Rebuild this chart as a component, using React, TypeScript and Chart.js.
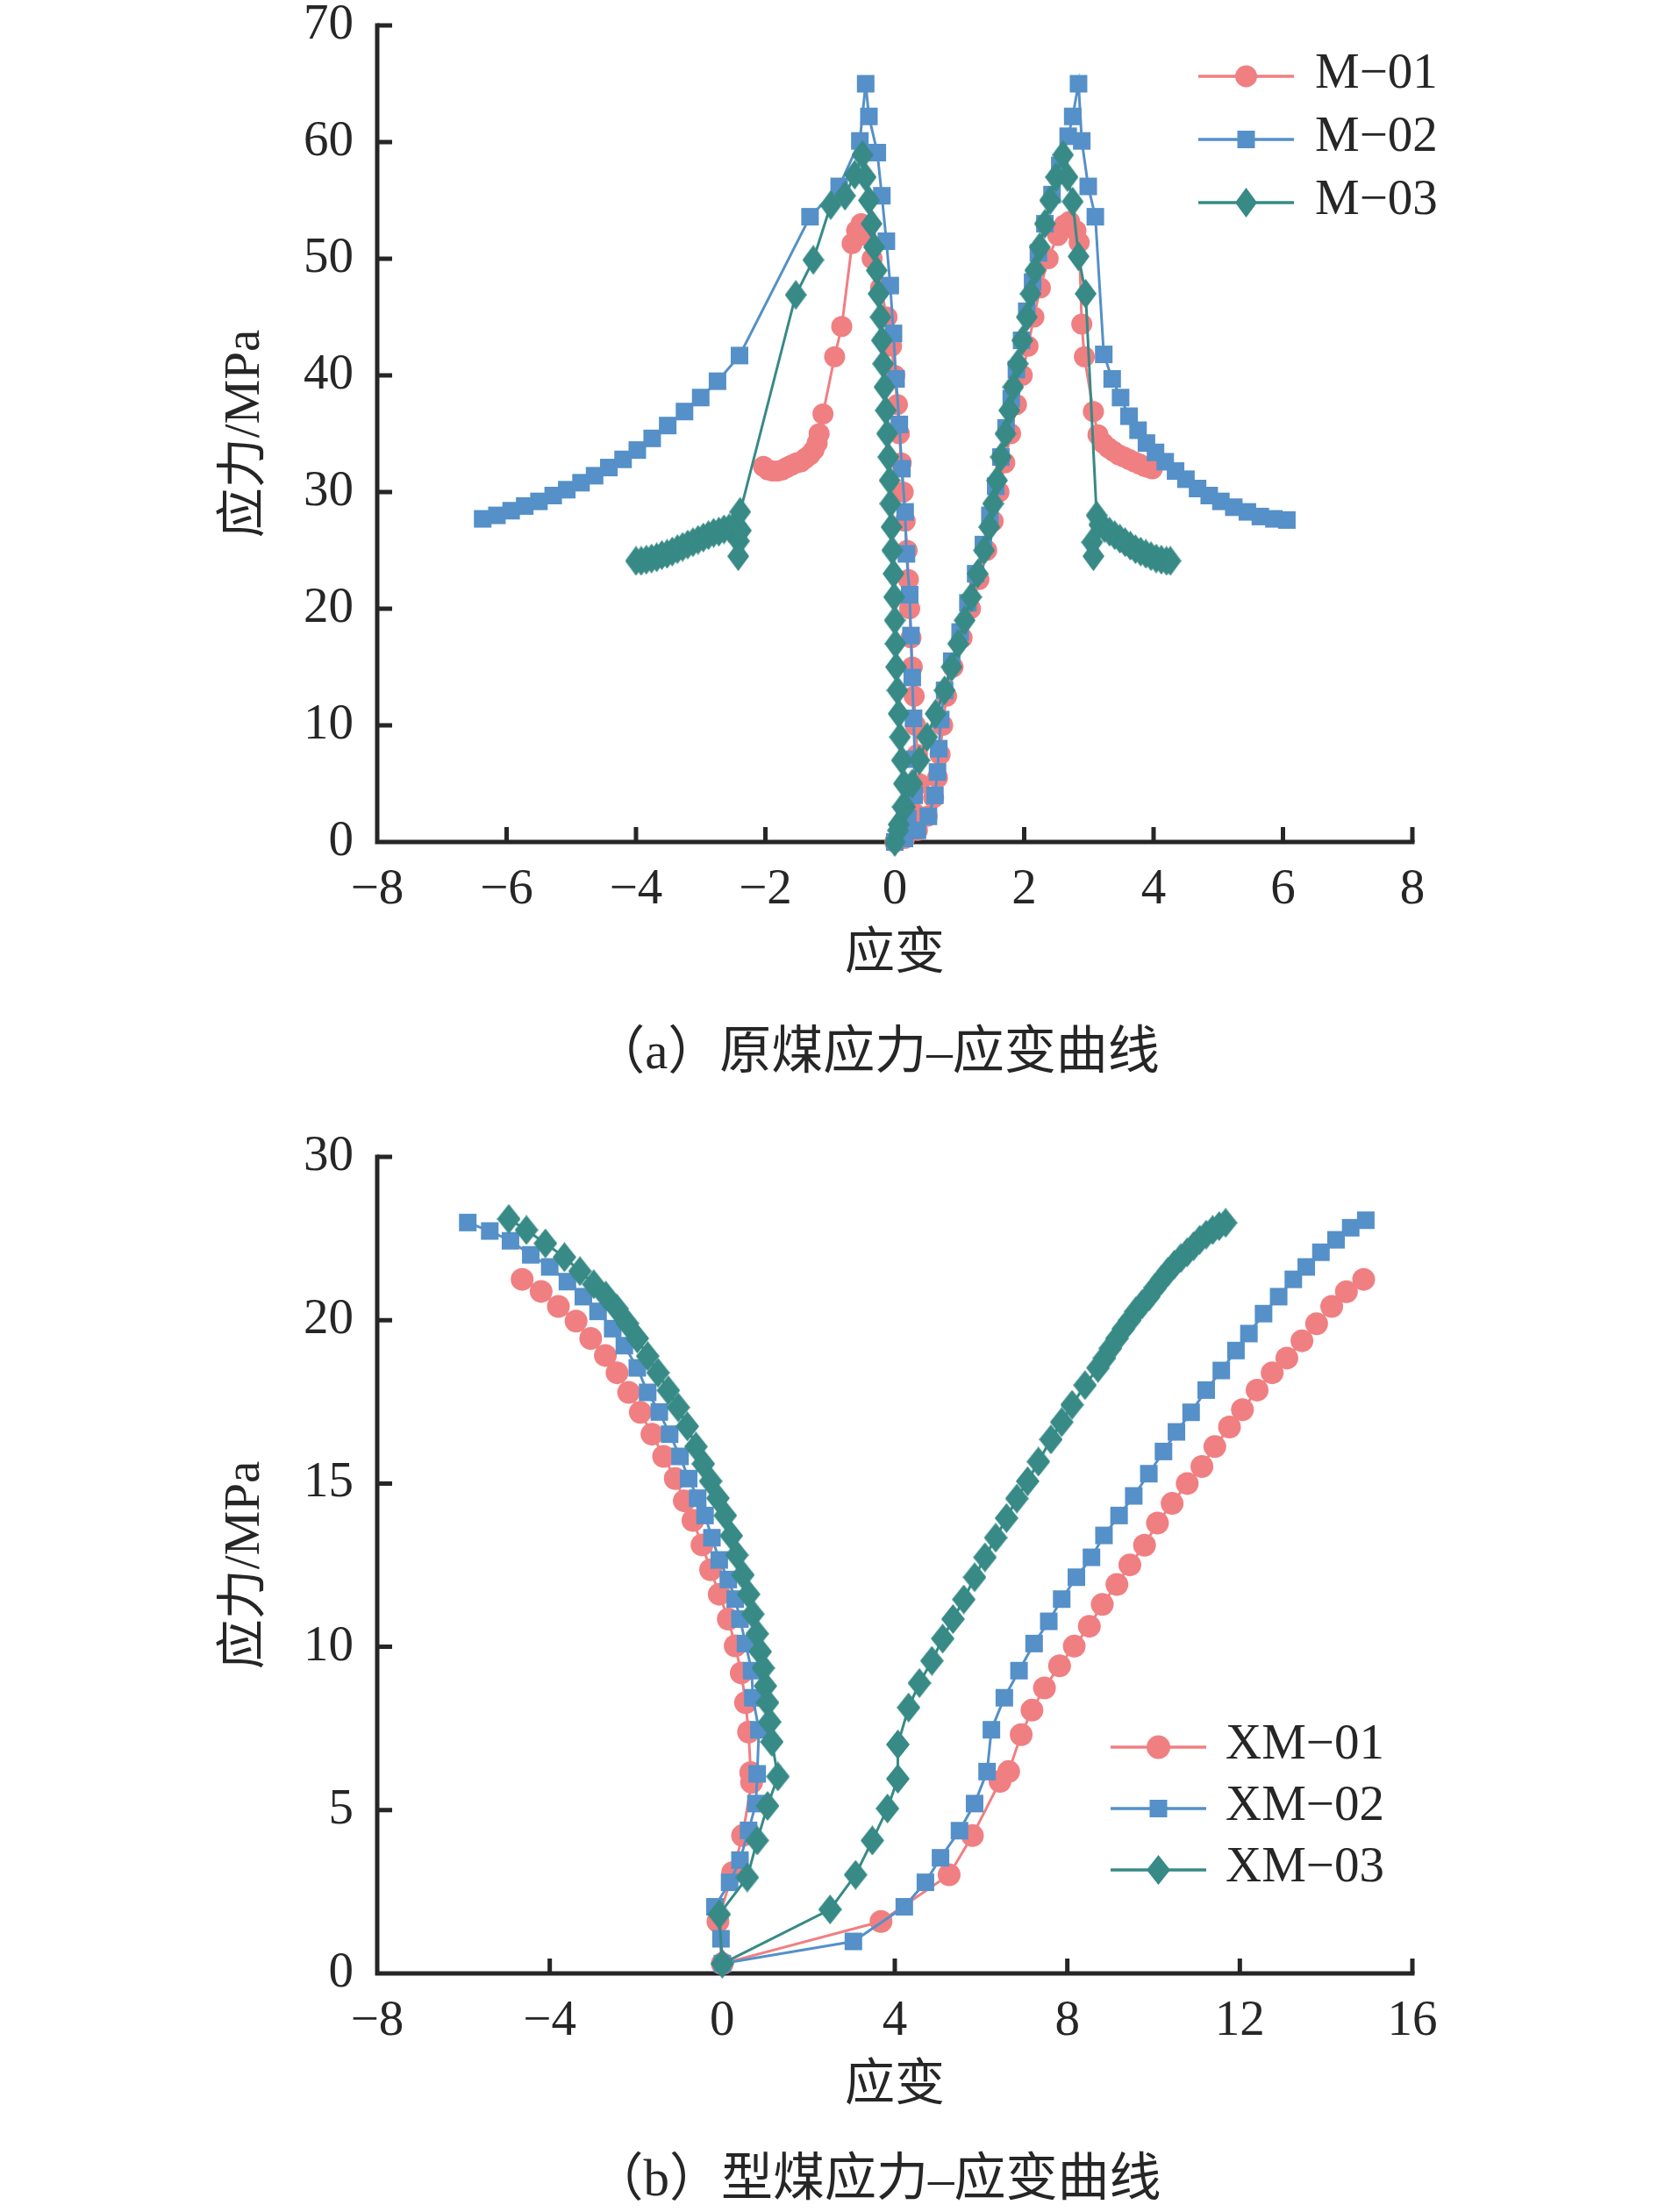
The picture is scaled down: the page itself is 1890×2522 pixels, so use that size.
import React, { useEffect, useRef } from 'react';
import { Chart, registerables } from 'chart.js';

Chart.register(...registerables);

const FONT = "'Liberation Serif', 'Noto Sans CJK SC', serif";
const INK = '#262626';
const PINK = '#F07F82';
const BLUE = '#5590C8';
const TEAL = '#378A86';

// ---------- (a) raw coal: strain / stress pairs ----------
const M01: [number, number][] = [
  [-2.03, 32.2], [-1.96, 31.9], [-1.89, 31.8], [-1.81, 31.8], [-1.74, 31.9], [-1.67, 32.1], [-1.6, 32.3], [-1.52, 32.5],
  [-1.45, 32.6], [-1.38, 32.9], [-1.31, 33.2], [-1.25, 33.6], [-1.2, 34.2], [-1.17, 35.0], [-1.11, 36.7], [-0.93, 41.6],
  [-0.82, 44.2], [-0.66, 51.3], [-0.59, 52.4], [-0.52, 53.0],
  [-0.45, 52.0], [-0.35, 50.0], [-0.22, 47.5], [-0.12, 45.0], [-0.05, 42.5], [0.0, 40.0], [0.04, 37.5], [0.07, 35.0],
  [0.1, 32.5], [0.13, 30.0], [0.16, 27.5], [0.19, 25.0], [0.21, 22.5], [0.23, 20.0], [0.25, 17.5], [0.27, 15.0],
  [0.3, 12.5], [0.32, 10.0], [0.35, 7.5], [0.38, 5.0], [0.3, 2.5], [0.12, 1.0], [0, 0],
  [0.15, 0.3], [0.35, 1.0], [0.5, 2.2], [0.6, 3.8], [0.66, 5.5], [0.7, 7.5], [0.74, 10.0], [0.8, 12.5], [0.9, 15.0],
  [1.04, 17.5], [1.17, 20.0],
  [1.3, 22.5], [1.42, 25.0], [1.52, 27.5], [1.61, 30.0], [1.7, 32.5], [1.79, 35.0], [1.88, 37.5], [1.97, 40.0],
  [2.06, 42.5], [2.15, 45.0], [2.25, 47.5], [2.37, 50.0], [2.52, 52.0], [2.62, 52.9], [2.7, 53.2],
  [2.8, 52.4], [2.85, 51.4], [2.89, 44.4], [2.93, 41.6], [3.07, 36.9], [3.14, 34.9], [3.22, 34.2], [3.3, 33.8],
  [3.38, 33.5], [3.46, 33.2], [3.54, 33.0], [3.62, 32.8], [3.7, 32.6], [3.78, 32.4], [3.86, 32.2], [3.92, 32.1], [3.98, 32.0],
];

const M02: [number, number][] = [
  [-6.37, 27.7], [-6.15, 28.0], [-5.93, 28.4], [-5.72, 28.8], [-5.5, 29.2], [-5.28, 29.7], [-5.07, 30.2], [-4.85, 30.8],
  [-4.64, 31.4], [-4.42, 32.1], [-4.2, 32.8], [-3.98, 33.6], [-3.75, 34.6], [-3.51, 35.7], [-3.25, 36.9], [-3.0, 38.1],
  [-2.74, 39.5], [-2.4, 41.7], [-1.31, 53.6], [-0.86, 56.2], [-0.54, 60.1], [-0.45, 65.0], [-0.4, 62.2],
  [-0.27, 59.1], [-0.2, 55.4], [-0.13, 51.5], [-0.07, 47.7], [-0.02, 43.6], [0.02, 39.7], [0.07, 35.8], [0.11, 32.0],
  [0.16, 28.3], [0.18, 24.7], [0.23, 21.2], [0.25, 17.7], [0.27, 14.1], [0.29, 10.6], [0.31, 7.1], [0.3, 4.0],
  [0.2, 2.0], [0.08, 0.8], [0, 0],
  [0.15, 0.3], [0.35, 1.0], [0.52, 2.2], [0.62, 4.0], [0.66, 6.0], [0.68, 8.0], [0.71, 10.5], [0.77, 13.0],
  [0.88, 15.5], [1.01, 18.0],
  [1.13, 20.5], [1.25, 23.0], [1.37, 25.5], [1.47, 28.0], [1.56, 30.5], [1.64, 33.0], [1.72, 35.5], [1.8, 38.0],
  [1.88, 40.5], [1.96, 43.0], [2.04, 45.5], [2.13, 48.0], [2.22, 50.5], [2.32, 53.0], [2.43, 55.5], [2.55, 58.0],
  [2.68, 60.5], [2.75, 62.2], [2.84, 65.0],
  [2.89, 60.1], [2.99, 56.2], [3.1, 53.6], [3.23, 41.8], [3.36, 39.7], [3.49, 38.1], [3.62, 36.5], [3.76, 35.3],
  [3.89, 34.2], [4.03, 33.4], [4.18, 32.6], [4.34, 31.8], [4.5, 31.1], [4.68, 30.3], [4.86, 29.7], [5.04, 29.2],
  [5.24, 28.7], [5.45, 28.3], [5.65, 27.9], [5.86, 27.7], [6.06, 27.6],
];

const M03: [number, number][] = [
  [-4.0, 24.1], [-3.92, 24.1], [-3.84, 24.2], [-3.76, 24.3], [-3.68, 24.4], [-3.6, 24.6], [-3.52, 24.7], [-3.44, 24.9],
  [-3.36, 25.1], [-3.28, 25.3], [-3.2, 25.5], [-3.12, 25.7], [-3.04, 25.9], [-2.96, 26.1], [-2.88, 26.3], [-2.8, 26.5],
  [-2.72, 26.6], [-2.64, 26.8], [-2.56, 26.9], [-2.48, 27.1], [-2.41, 25.8], [-2.42, 24.5], [-2.38, 26.7], [-2.39, 28.3],
  [-1.53, 46.9], [-1.26, 49.9], [-0.99, 54.6], [-0.77, 55.4], [-0.62, 57.2], [-0.5, 58.9],
  [-0.45, 57.0], [-0.4, 55.0], [-0.36, 53.0], [-0.32, 51.0], [-0.28, 49.0], [-0.25, 47.0], [-0.22, 45.0], [-0.2, 43.0],
  [-0.18, 41.0], [-0.16, 39.0], [-0.14, 37.0], [-0.12, 35.0], [-0.1, 33.0], [-0.08, 31.0], [-0.07, 29.0], [-0.05, 27.0],
  [-0.04, 25.0], [-0.02, 23.0], [-0.01, 21.0], [0.0, 19.0], [0.01, 17.0], [0.02, 15.0], [0.04, 13.0], [0.06, 11.0],
  [0.08, 9.0], [0.11, 7.0], [0.14, 5.0], [0.12, 3.0], [0.06, 1.5], [0, 0],
  [0.05, 1.0], [0.16, 3.0], [0.27, 5.0], [0.38, 7.0], [0.5, 9.0], [0.63, 11.0], [0.77, 13.0], [0.88, 15.0],
  [0.98, 17.0], [1.08, 19.0], [1.18, 21.0], [1.28, 23.0], [1.38, 25.0], [1.46, 27.0], [1.52, 29.0], [1.58, 31.0],
  [1.64, 33.0], [1.71, 35.0], [1.77, 37.0], [1.83, 39.0], [1.9, 41.0], [1.97, 43.0], [2.04, 45.0], [2.1, 47.0],
  [2.17, 49.0], [2.24, 51.0], [2.32, 53.0], [2.4, 55.0], [2.49, 57.0], [2.6, 58.9],
  [2.67, 57.0], [2.75, 54.9], [2.84, 50.2], [2.95, 47.0], [3.12, 28.0], [3.05, 25.7], [3.07, 24.5], [3.16, 27.2],
  [3.24, 26.9], [3.32, 26.6], [3.4, 26.3], [3.48, 26.0], [3.56, 25.7], [3.64, 25.4], [3.72, 25.1], [3.8, 24.9],
  [3.88, 24.7], [3.96, 24.5], [4.04, 24.3], [4.12, 24.2], [4.2, 24.1], [4.26, 24.1],
];

// ---------- (b) briquette: strain / stress pairs ----------
const XM01: [number, number][] = [
  [-4.64, 21.25], [-4.2, 20.88], [-3.8, 20.42], [-3.39, 19.97], [-3.05, 19.44], [-2.71, 18.92], [-2.44, 18.39],
  [-2.17, 17.79], [-1.9, 17.18], [-1.63, 16.51], [-1.36, 15.83], [-1.09, 15.15], [-0.88, 14.47], [-0.68, 13.87],
  [-0.47, 13.12], [-0.27, 12.36], [-0.07, 11.61], [0.14, 10.85], [0.3, 10.03], [0.44, 9.2], [0.54, 8.29], [0.61, 7.39],
  [0.66, 6.15], [0.68, 5.85], [0.47, 4.22], [0.24, 3.09], [-0.1, 1.59], [0, 0.3],
  [3.68, 1.59], [5.26, 3.02], [5.8, 4.22], [6.44, 5.88], [6.64, 6.18], [6.93, 7.31], [7.18, 8.06], [7.47, 8.74],
  [7.82, 9.42], [8.16, 10.02], [8.51, 10.63], [8.81, 11.3], [9.15, 11.91], [9.45, 12.51], [9.79, 13.11], [10.09, 13.79],
  [10.43, 14.39], [10.78, 15.0], [11.12, 15.52], [11.42, 16.13], [11.76, 16.73], [12.06, 17.26], [12.4, 17.86],
  [12.75, 18.39], [13.09, 18.84], [13.44, 19.37], [13.78, 19.89], [14.13, 20.42], [14.47, 20.87], [14.87, 21.25],
];

const XM02: [number, number][] = [
  [-5.9, 22.99], [-5.39, 22.73], [-4.91, 22.43], [-4.44, 22.0], [-4.0, 21.63], [-3.59, 21.18], [-3.22, 20.72],
  [-2.88, 20.27], [-2.54, 19.74], [-2.27, 19.22], [-1.97, 18.54], [-1.73, 17.79], [-1.46, 17.19], [-1.22, 16.51],
  [-0.98, 15.83], [-0.78, 15.15], [-0.57, 14.55], [-0.4, 14.02], [-0.24, 13.34], [-0.07, 12.66], [0.14, 12.06],
  [0.3, 11.46], [0.41, 10.85], [0.54, 10.1], [0.68, 9.27], [0.71, 8.44], [0.85, 7.46], [0.81, 6.11], [0.78, 5.2],
  [0.61, 4.38], [0.41, 3.47], [0.17, 2.79], [-0.17, 2.04], [-0.03, 1.06], [0, 0.3],
  [3.04, 0.98], [4.22, 2.04], [4.71, 2.79], [5.06, 3.54], [5.5, 4.37], [5.85, 5.2], [6.14, 6.18], [6.24, 7.46],
  [6.54, 8.44], [6.88, 9.27], [7.23, 10.1], [7.57, 10.78], [7.87, 11.46], [8.21, 12.13], [8.56, 12.74], [8.85, 13.41],
  [9.2, 14.02], [9.54, 14.62], [9.89, 15.3], [10.23, 15.98], [10.53, 16.58], [10.87, 17.18], [11.22, 17.86],
  [11.57, 18.46], [11.91, 19.07], [12.21, 19.59], [12.55, 20.2], [12.9, 20.72], [13.24, 21.25], [13.54, 21.63],
  [13.88, 22.08], [14.23, 22.46], [14.57, 22.83], [14.92, 23.06],
];

const XM03: [number, number][] = [
  [-4.95, 23.1], [-4.54, 22.76], [-4.1, 22.35], [-3.66, 21.93], [-3.3, 21.5], [-2.98, 21.1], [-2.7, 20.75],
  [-2.44, 20.35], [-2.2, 19.9], [-1.97, 19.44], [-1.73, 18.9], [-1.49, 18.39], [-1.25, 17.85], [-1.02, 17.33],
  [-0.81, 16.75], [-0.61, 16.13], [-0.44, 15.6], [-0.27, 15.07], [-0.1, 14.55], [0.07, 14.02], [0.21, 13.4],
  [0.34, 12.81], [0.48, 12.2], [0.61, 11.61], [0.71, 11.0], [0.81, 10.4], [0.88, 9.85], [0.95, 9.35], [1.0, 8.8],
  [1.05, 8.29], [1.1, 7.7], [1.15, 7.09], [1.29, 6.03], [1.05, 5.13], [0.81, 4.07], [0.58, 2.94], [-0.07, 1.81], [0, 0.3],
  [2.5, 1.96], [3.09, 3.02], [3.48, 4.07], [3.83, 5.05], [4.07, 5.96], [4.07, 7.01], [4.32, 8.14], [4.57, 8.89],
  [4.86, 9.57], [5.11, 10.25], [5.35, 10.85], [5.6, 11.45], [5.85, 12.13], [6.09, 12.74], [6.34, 13.34], [6.59, 13.94],
  [6.83, 14.54], [7.08, 15.07], [7.33, 15.67], [7.62, 16.35], [7.87, 16.88], [8.11, 17.41], [8.41, 18.01], [8.71, 18.54],
  [8.86, 18.84], [9.0, 19.14], [9.15, 19.44], [9.3, 19.74], [9.45, 20.0], [9.59, 20.27], [9.74, 20.5], [9.89, 20.72],
  [10.04, 21.0], [10.19, 21.25], [10.33, 21.48], [10.48, 21.7], [10.63, 21.9], [10.78, 22.08], [10.93, 22.27],
  [11.07, 22.46], [11.22, 22.62], [11.37, 22.76], [11.52, 22.88], [11.67, 22.98],
];

const LABELS_A = ['M−01', 'M−02', 'M−03'];
const LABELS_B = ['XM−01', 'XM−02', 'XM−03'];
const Y_TICK_LABELS_B = ['0', '5', '10', '15', '20', '30'];
const X_TITLE = '应变';
const Y_TITLE = '应力/MPa';
const CAPTION_A = '（a）原煤应力–应变曲线';
const CAPTION_B = '（b）型煤应力–应变曲线';

const COLORS = [PINK, BLUE, TEAL];
const KINDS = ['circle', 'square', 'diamond'];

function makeDiamond(w: number, h: number, color: string) {
  const c = document.createElement('canvas');
  c.width = w;
  c.height = h;
  const g = c.getContext('2d')!;
  g.fillStyle = color;
  g.beginPath();
  g.moveTo(w / 2, 0);
  g.lineTo(w, h / 2);
  g.lineTo(w / 2, h);
  g.lineTo(0, h / 2);
  g.closePath();
  g.fill();
  return c;
}

const minusFmt = (v: number) => (v < 0 ? '−' + Math.abs(v) : String(v));

const axesPlugin = {
  id: 'inwardAxes',
  beforeDatasetsDraw(chart: any) {
    const { ctx, chartArea: a } = chart;
    const xs = chart.scales.x;
    const ys = chart.scales.y;
    ctx.save();
    ctx.strokeStyle = INK;
    ctx.lineWidth = 5;
    ctx.lineJoin = 'miter';
    ctx.beginPath();
    ctx.moveTo(a.left, a.top - 2.5);
    ctx.lineTo(a.left, a.bottom);
    ctx.lineTo(a.right + 2.5, a.bottom);
    ctx.stroke();
    ctx.beginPath();
    xs.ticks.forEach((t: any) => {
      if (t.value === xs.min) return;
      const px = xs.getPixelForValue(t.value);
      ctx.moveTo(px, a.bottom);
      ctx.lineTo(px, a.bottom - 17);
    });
    ys.ticks.forEach((t: any) => {
      if (t.value === ys.min) return;
      const py = ys.getPixelForValue(t.value);
      ctx.moveTo(a.left, py);
      ctx.lineTo(a.left + 17, py);
    });
    ctx.stroke();
    ctx.restore();
  },
};

function legendPlugin(cfg: any) {
  return {
    id: 'sideLegend',
    afterDraw(chart: any) {
      const ctx = chart.ctx;
      ctx.save();
      chart.data.datasets.forEach((ds: any, i: number) => {
        const y = cfg.top + i * cfg.gap;
        const cx = (cfg.x1 + cfg.x2) / 2;
        ctx.strokeStyle = ds.borderColor;
        ctx.lineWidth = 3.3;
        ctx.beginPath();
        ctx.moveTo(cfg.x1, y);
        ctx.lineTo(cfg.x2, y);
        ctx.stroke();
        ctx.fillStyle = ds.borderColor;
        const kind = KINDS[i];
        if (kind === 'circle') {
          ctx.beginPath();
          ctx.arc(cx, y, cfg.circleR, 0, Math.PI * 2);
          ctx.fill();
        } else if (kind === 'square') {
          ctx.fillRect(cx - cfg.sq / 2, y - cfg.sq / 2, cfg.sq, cfg.sq);
        } else {
          const d = ds.pointStyle;
          ctx.drawImage(d, cx - d.width / 2, y - d.height / 2);
        }
        ctx.fillStyle = INK;
        ctx.font = `57px ${FONT}`;
        ctx.textAlign = 'left';
        ctx.textBaseline = 'middle';
        ctx.fillText(ds.label, cfg.tx, y - 2);
      });
      ctx.restore();
    },
  };
}

function buildChart(canvas: HTMLCanvasElement, p: any) {
  const diamond = makeDiamond(p.dw, p.dh, TEAL);
  const series = p.series;
  const datasets = series.map((arr: [number, number][], i: number) => {
    const kind = KINDS[i];
    return {
      label: p.labels[i],
      data: arr.map(([x, y]) => ({ x, y })),
      showLine: true,
      borderColor: COLORS[i],
      backgroundColor: COLORS[i],
      pointBackgroundColor: COLORS[i],
      pointBorderWidth: 0,
      borderWidth: 3,
      tension: 0,
      clip: false,
      order: 3 - i,
      pointStyle: kind === 'circle' ? 'circle' : kind === 'square' ? 'rect' : diamond,
      pointRadius: kind === 'circle' ? p.circleR : kind === 'square' ? p.sq / Math.SQRT2 : 14,
    };
  });
  return new Chart(canvas, {
    type: 'scatter',
    data: { datasets },
    options: {
      animation: false,
      responsive: false,
      devicePixelRatio: 1,
      events: [],
      layout: { padding: { top: p.padTop, right: 280, bottom: 0, left: 0 } },
      plugins: { legend: { display: false }, tooltip: { enabled: false }, title: { display: false } },
      scales: {
        x: {
          type: 'linear',
          min: p.xMin,
          max: p.xMax,
          afterFit: (s: any) => {
            s.height = 200;
          },
          ticks: {
            stepSize: p.xStep,
            color: INK,
            padding: 27,
            maxRotation: 0,
            autoSkip: false,
            font: { family: FONT, size: 57, lineHeight: 1 },
            callback: (v: number) => minusFmt(v),
          },
          grid: { display: false, drawTicks: false },
          border: { display: false },
          title: {
            display: true,
            text: X_TITLE,
            color: INK,
            font: { family: FONT, size: 57, lineHeight: 1.2 },
            padding: { top: 0, bottom: p.xTitlePad },
          },
        },
        y: {
          type: 'linear',
          min: p.yMin,
          max: p.yMax,
          afterFit: (s: any) => {
            s.width = 430;
          },
          ticks: {
            stepSize: p.yStep,
            color: INK,
            padding: 27,
            autoSkip: false,
            font: { family: FONT, size: 57, lineHeight: 1 },
            callback: p.yLabel,
          },
          grid: { display: false, drawTicks: false },
          border: { display: false },
          title: {
            display: true,
            text: Y_TITLE,
            color: INK,
            font: { family: FONT, size: 57, lineHeight: 1.2 },
            padding: { top: 246, bottom: 0 },
          },
        },
      },
    },
    plugins: [axesPlugin, legendPlugin(p.legend)],
  } as any);
}

export default function App() {
  const refA = useRef<HTMLCanvasElement>(null);
  const refB = useRef<HTMLCanvasElement>(null);

  useEffect(() => {
    const a = buildChart(refA.current!, {
      series: [M01, M02, M03],
      labels: LABELS_A,
      xMin: -8, xMax: 8, xStep: 2,
      yMin: 0, yMax: 70, yStep: 10,
      yLabel: (v: number) => String(v),
      padTop: 59,
      xTitlePad: 37,
      circleR: 12, sq: 20, dw: 25, dh: 34,
      legend: { top: 117, gap: 72, x1: 1366, x2: 1475, tx: 1499, circleR: 12.5, sq: 20 },
    });
    const b = buildChart(refB.current!, {
      series: [XM01, XM02, XM03],
      labels: LABELS_B,
      xMin: -8, xMax: 16, xStep: 4,
      yMin: 0, yMax: 25, yStep: 5,
      yLabel: (_v: number, i: number) => Y_TICK_LABELS_B[i],
      padTop: 59,
      xTitlePad: 37,
      circleR: 13, sq: 20, dw: 27, dh: 34,
      legend: { top: 732, gap: 70, x1: 1266, x2: 1375, tx: 1397, circleR: 13.5, sq: 20 },
    });
    return () => {
      a.destroy();
      b.destroy();
    };
  }, []);

  const capStyle: React.CSSProperties = {
    position: 'absolute',
    left: 399,
    width: 1200,
    height: 70,
    lineHeight: '70px',
    fontSize: 59,
    fontFamily: FONT,
    color: INK,
    textAlign: 'center',
    whiteSpace: 'nowrap',
  };

  return (
    <div style={{ position: 'absolute', left: 0, top: 0, width: 1890, height: 2522, background: '#fff', overflow: 'hidden' }}>
      <canvas ref={refA} width={1890} height={1190} style={{ position: 'absolute', left: 0, top: -30, width: 1890, height: 1190 }} />
      <div style={{ ...capStyle, top: 1163 }}>{CAPTION_A}</div>
      <canvas ref={refB} width={1890} height={1190} style={{ position: 'absolute', left: 0, top: 1260, width: 1890, height: 1190 }} />
      <div style={{ ...capStyle, top: 2448 }}>{CAPTION_B}</div>
    </div>
  );
}
